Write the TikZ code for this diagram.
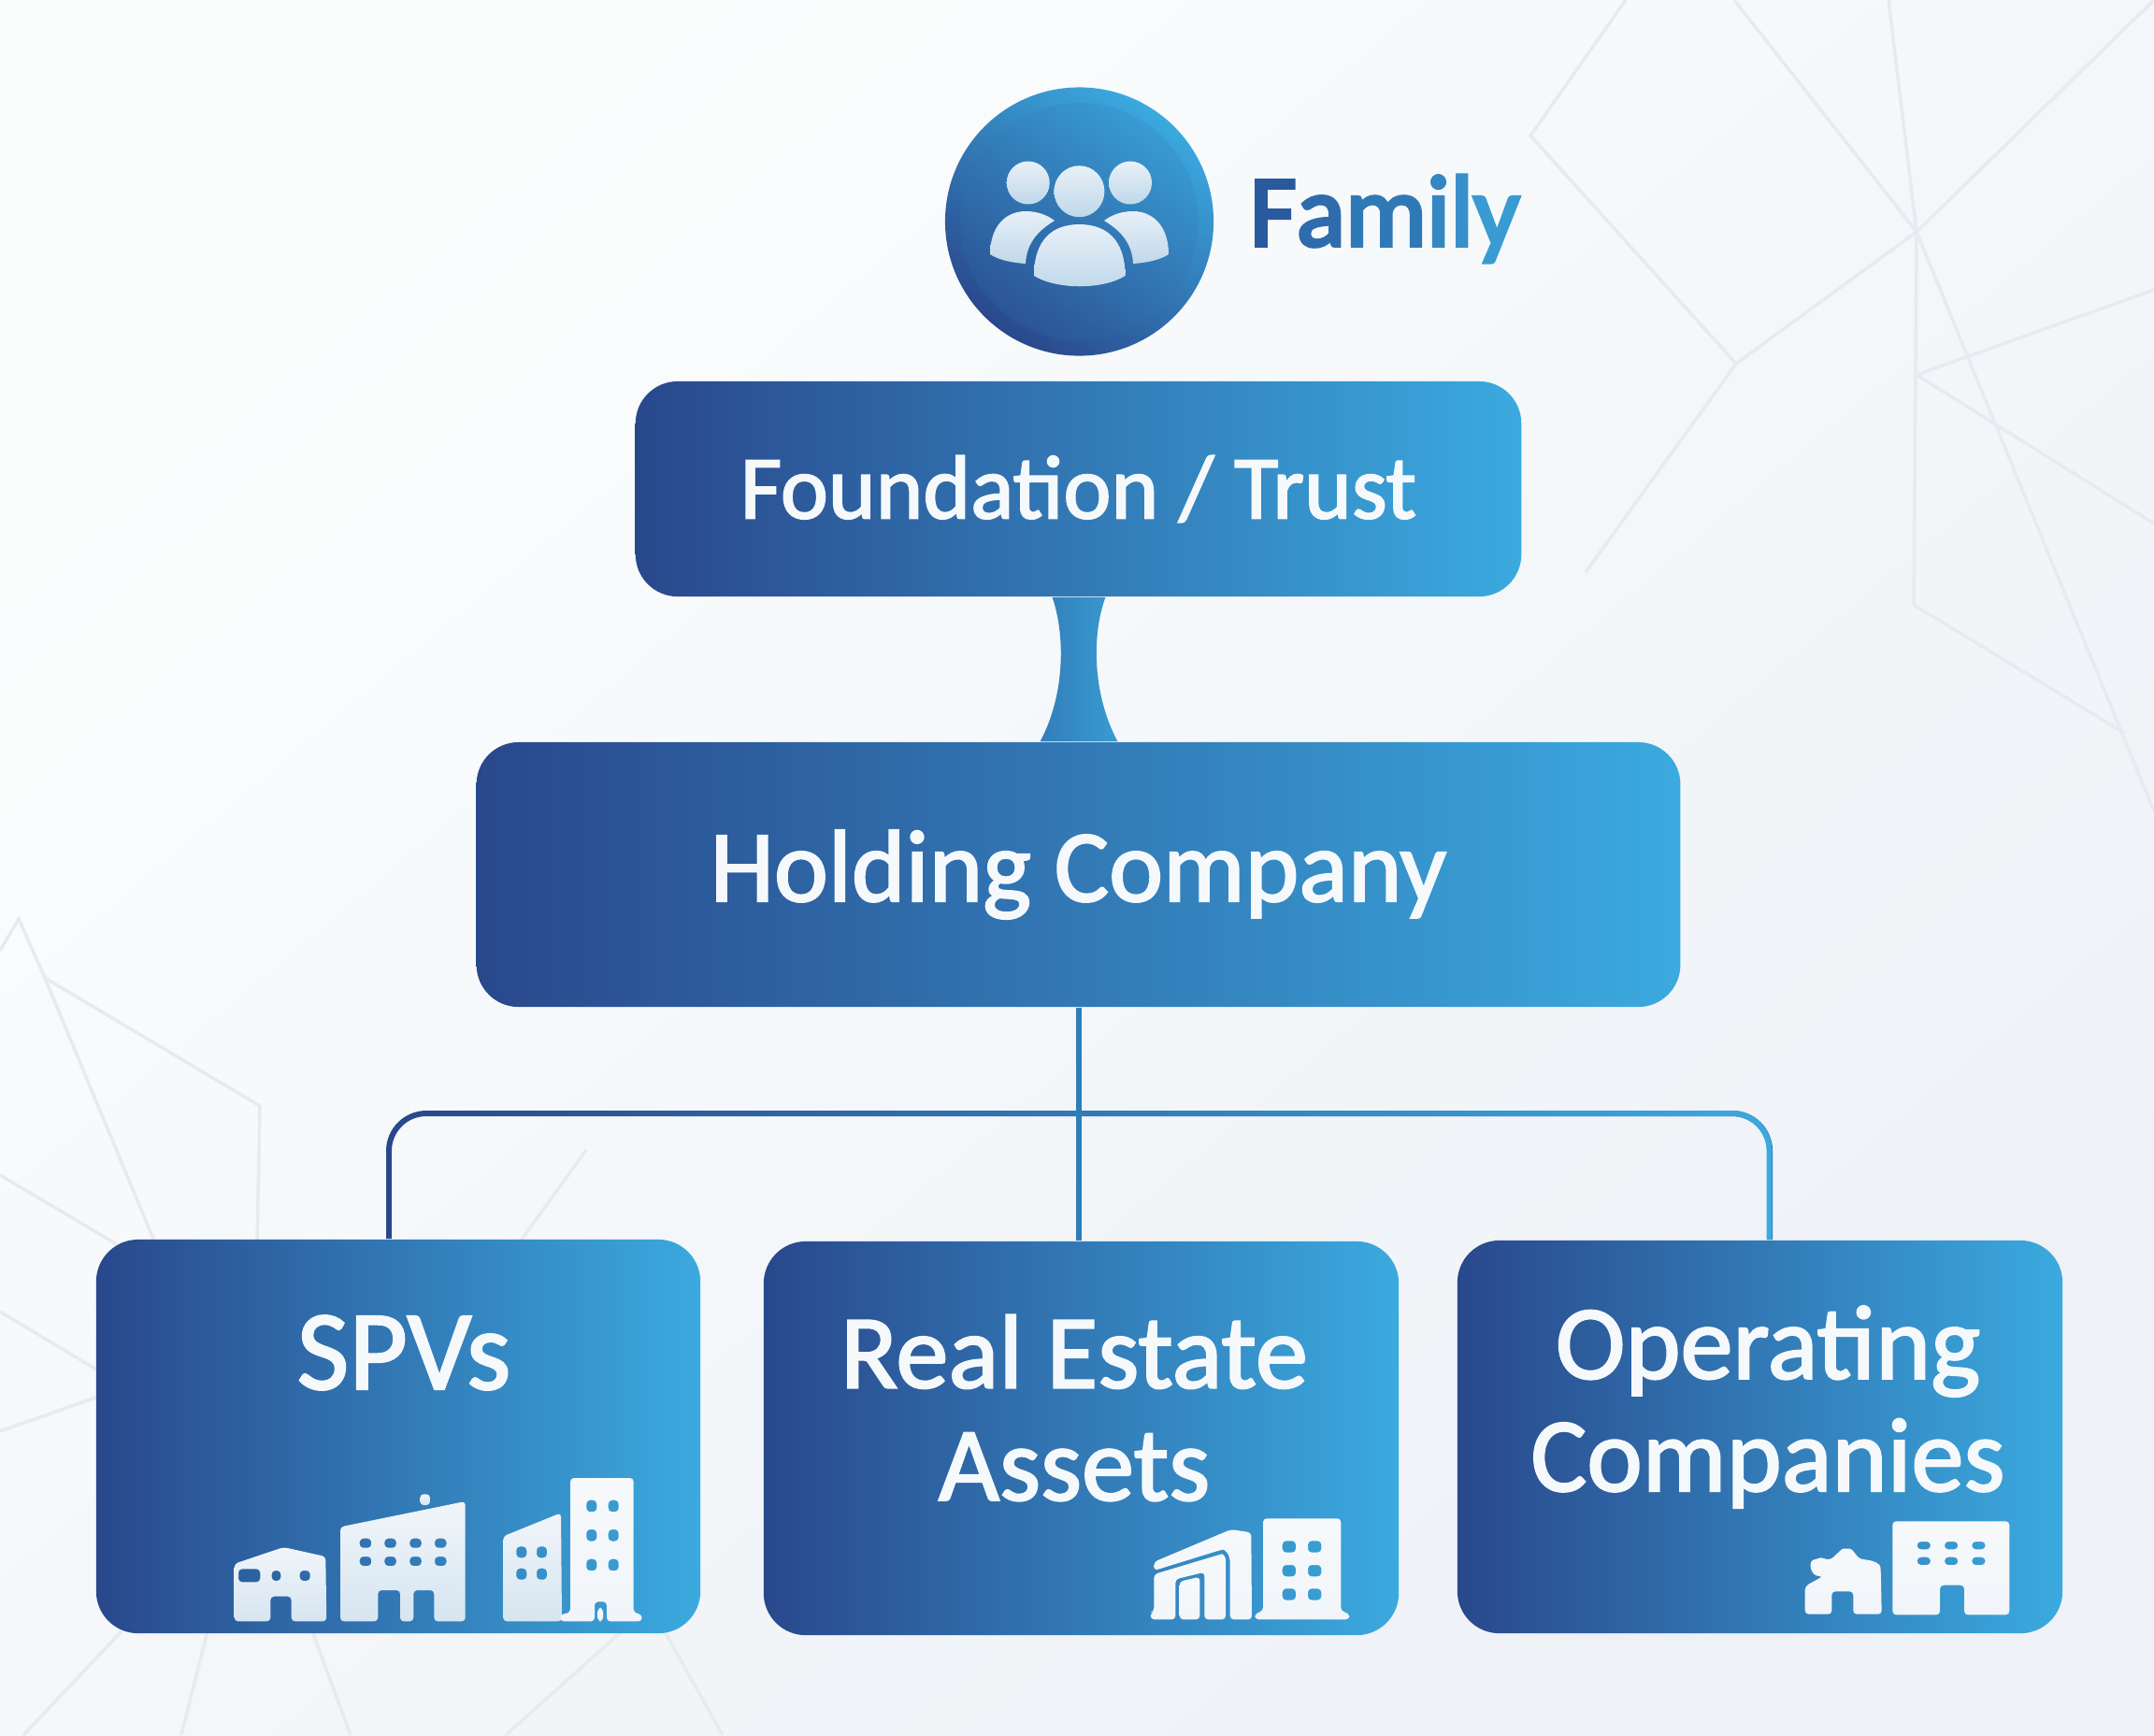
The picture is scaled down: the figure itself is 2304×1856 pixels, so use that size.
\documentclass[tikz,border=0pt]{standalone}
\usepackage{fontspec}
\setmainfont{Carlito}
\newcommand{\labelsize}[1]{\fontsize{#1}{34.2}\selectfont\font\labelfontnow="Carlito:embolden=1.9" at #1pt \labelfontnow}
\newcommand{\familysize}[1]{\font\familyfontnow="Carlito:embolden=3.6" at #1pt \familyfontnow}
\usetikzlibrary{calc,fadings,shapes.geometric}
\definecolor{boxleft}{HTML}{29488C}
\definecolor{boxright}{HTML}{3BAADF}
\definecolor{boxtext}{HTML}{F6F9FB}
\definecolor{bgline}{HTML}{E7EAF0}
\definecolor{pagetop}{HTML}{FBFDFD}
\definecolor{pagebot}{HTML}{EEF1F6}
\definecolor{trunkblue}{HTML}{2F7DB8}
\definecolor{bldgtop}{HTML}{F1F5F9}
\definecolor{bldgbot}{HTML}{D6E5F1}
\definecolor{persontop}{HTML}{E8F0F7}
\definecolor{personbot}{HTML}{BFD8EA}
\definecolor{famA}{HTML}{2A5A9E}
\definecolor{famB}{HTML}{2F6CAD}
\definecolor{famC}{HTML}{3079B7}
\definecolor{famD}{HTML}{3387C2}
\definecolor{famE}{HTML}{3790C9}
\definecolor{famF}{HTML}{3A9BD2}
\tikzset{
    tierbox/.style={rectangle, rounded corners=0.45cm, left color=boxleft, right color=boxright,
        text=boxtext, inner sep=0pt, align=center},
    boxlabel/.style={text=boxtext, align=center, inner sep=0pt, font=\labelsize{32}},
    faint/.style={draw=bgline, line width=1pt},
    rail/.style={line width=1.7pt, rounded corners=0.4cm},
    bldg/.style={top color=bldgtop, bottom color=bldgbot, even odd rule, rounded corners=1.1pt},
    paleb/.style={top color=bldgtop!60!white, bottom color=bldgtop, even odd rule, rounded corners=1.1pt},
    person/.style={top color=persontop, bottom color=personbot},
}
\begin{document}
\begin{tikzpicture}[x=0.01cm, y=-0.01cm]
    \useasboundingbox (0,0) rectangle (2304,1856);
    \clip (0,0) rectangle (2304,1856);
    \shade[top color=pagetop, bottom color=pagebot, shading angle=40] (0,0) rectangle (2304,1856);

    \draw[faint] (1739,0) -- (1637,145) -- (1857,389) -- (1696,612);
    \draw[faint] (1855,0) -- (2050,248) -- (1857,389);
    \draw[faint] (2020,0) -- (2050,248) -- (2304,0);
    \draw[faint] (2050,248) -- (2047,647) -- (2272,784);
    \draw[faint] (2050,248) -- (2304,868);
    \draw[faint] (2304,310) -- (2050,401) -- (2304,560);
    \draw[faint] (0,1017) -- (20,983) -- (48,1046) -- (278,1183) -- (275,1330);
    \draw[faint] (48,1046) -- (166,1330);
    \draw[faint] (0,1257) -- (125,1331);
    \draw[faint] (0,1403) -- (105,1466);
    \draw[faint] (0,1531) -- (105,1494);
    \draw[faint] (627,1230) -- (555,1330);
    \draw[faint] (130,1745) -- (25,1856);
    \draw[faint] (222,1745) -- (194,1856);
    \draw[faint] (334,1745) -- (375,1856);
    \draw[faint] (665,1745) -- (541,1856);
    \draw[faint] (711,1745) -- (773,1856);

    \node[circle, minimum size=2.87cm, inner sep=0pt, top color=boxright, bottom color=boxleft, shading angle=-35] (family) at (1154.5,237) {};
    \node[circle, minimum size=2.54cm, inner sep=0pt, top color=boxright!85!boxleft, bottom color=boxleft!88!boxright, shading angle=-35] (familyring) at (family) {};
    \shade[person] (1099.7,195.5) ellipse [x radius=23, y radius=23];
    \shade[person] (1154.4,204.7) ellipse [x radius=27, y radius=27.5];
    \shade[person] (1209,195.5) ellipse [x radius=23, y radius=23];
    \shade[person] (1106,295) .. controls (1106,256) and (1126,240) .. (1154.5,240) .. controls (1183,240) and (1203.5,256) .. (1203.5,295) .. controls (1180,310) and (1130,310) .. cycle;
    \shade[person] (1059,272) .. controls (1059,243) and (1075,226) .. (1097,226) .. controls (1110,226) and (1120,230) .. (1128,236) .. controls (1108,248) and (1098,262) .. (1097,282) .. controls (1082,281) and (1068,278) .. cycle;
    \shade[person] (1250,272) .. controls (1250,243) and (1234,226) .. (1212,226) .. controls (1199,226) and (1189,230) .. (1181,236) .. controls (1201,248) and (1211,262) .. (1212,282) .. controls (1227,281) and (1241,278) .. cycle;
    \node[anchor=base west, inner sep=0pt, font=\familysize{31}] (familylabel) at (1336,263)
        {\textcolor{famA}{F}\textcolor{famB}{a}\textcolor{famC}{m}\textcolor{famD}{i}\textcolor{famE}{l}\textcolor{famF}{y}};

    \node[tierbox, minimum width=9.47cm, minimum height=2.30cm, font=\labelsize{27.5}] (trust) at (1153.5,523) {Foundation / Trust};
    \node[tierbox, minimum width=12.87cm, minimum height=2.83cm, font=\labelsize{31.2}] (holding) at (1153.5,935.5) {Holding Company};
    \node[tierbox, minimum width=6.46cm, minimum height=4.21cm] (spv) at (426,1536.5) {};
    \node[tierbox, minimum width=6.79cm, minimum height=4.21cm] (estate) at (1156.5,1538.5) {};
    \node[tierbox, minimum width=6.47cm, minimum height=4.20cm] (operating) at (1882.5,1537) {};
    \node[boxlabel, font=\labelsize{34.5}] (spvlabel) at (432,1447) {SPVs};
    \node[boxlabel] (estatelabel) at (1149,1506) {Real Estate\\Assets};
    \node[boxlabel] (operatinglabel) at (1891,1505) {Operating\\Companies};

    \shade[left color=boxleft!45!boxright, right color=boxleft!15!boxright] ($(trust.south)+(-28,0)$) .. controls +(14,40) and +(27,-50) .. ($(holding.north)+(-41,0)$) -- ($(holding.north)+(42,0)$) .. controls +(-27,-50) and +(-15,40) .. ($(trust.south)+(29,0)$) -- cycle;

    \coordinate (spvdrop) at ($(spv.north)+(-10,0)$);
    \coordinate (operatingdrop) at ($(operating.north)+(10.5,0)$);
    \coordinate (railmid) at (1153.5,1191);
    \draw[rail, draw=boxleft] (spvdrop) |- (railmid) -| (operatingdrop);
    \draw[rail, draw=boxright, path fading=west] (spvdrop) |- (railmid) -| (operatingdrop);
    \draw[line width=1.7pt, draw=trunkblue] (holding.south) -- (holding.south |- estate.north);

    \shade[bldg] (250.7,1734.3) -- (250.7,1672.7) -- (303.3,1655) -- (348.3,1665) -- (349.3,1734.3) -- (311.7,1734.3) -- (311.7,1707.7) -- (289.3,1707.7) -- (289.3,1734.3) -- cycle
        (255,1678.3) rectangle (278.3,1692.3) (290.7,1680) rectangle (300.3,1691) (320.7,1680) rectangle (331.7,1691);
    \shade[bldg] (364,1734.3) -- (364,1633.3) -- (497.7,1606) -- (497.7,1734.3) -- (464.3,1734.3) -- (464.3,1701) -- (442.3,1701) -- (442.3,1734.3) -- (428,1734.3) -- (428,1701) -- (404.3,1701) -- (404.3,1734.3) -- cycle
        \foreach \x in {384.7,411.3,438.3,465} { \foreach \y in {1645.7,1665} { (\x,\y) rectangle (\x+12.5,\y+10) } };
    \shade[bldg] (449.3,1598.3) rectangle (460,1610);
    \shade[bldg] (538.3,1734.3) -- (538.3,1643.3) -- (600,1618.3) -- (601,1734.3) -- cycle
        \foreach \x in {552.3,574} { \foreach \y in {1654.3,1677.7} { (\x,\y) rectangle (\x+11,\y+12) } };
    \shade[paleb] (599.3,1734.3) -- (599.3,1727) -- (610,1725) -- (610,1581) -- (677.7,1581) -- (677.7,1725) -- (686.7,1727) -- (686.7,1734.3) -- (649,1734.3) -- (649,1713.3) -- (636,1713.3) -- (636,1734.3) -- cycle
        \foreach \x in {627.3,650.7} { \foreach \y in {1604.7,1636,1667.7} { (\x,\y) rectangle (\x+11,\y+12.5) } };
    \shade[paleb] (639.3,1734.3) -- (639.3,1720) -- (645,1720) -- (645,1734.3) -- cycle;

    \shade[paleb] (1234.3,1670.7) -- (1316.7,1636) -- (1338.3,1639.3) -- (1339,1732.3) -- (1315.7,1732.3) -- (1315.7,1676) .. controls (1315.7,1662) and (1310,1657) .. (1304,1658.5) -- (1234.3,1680) -- cycle;
    \shade[paleb] (1234.3,1684) -- (1303.3,1663.3) .. controls (1308,1662) and (1311,1666) .. (1311,1671.7) -- (1311,1732.3) -- (1288.3,1732.3) -- (1288.3,1681.7) -- (1257.3,1689.3) -- (1257.3,1732.3) -- (1230.7,1732.3) -- (1230.7,1725) -- (1234.3,1724) -- cycle;
    \shade[paleb] (1261.7,1691.7) -- (1283.3,1686.7) -- (1283.3,1732.3) -- (1261.7,1732.3) -- cycle;
    \shade[paleb] (1342.3,1732.3) -- (1342.3,1726) -- (1351,1723.3) -- (1351,1624.3) -- (1434.3,1624.3) -- (1434.3,1723.3) -- (1443.3,1726) -- (1443.3,1732.3) -- cycle
        \foreach \x in {1371.7,1399} { \foreach \y in {1648.3,1674,1699.3} { (\x,\y) rectangle (\x+14.3,\y+12.3) } };

    \shade[paleb] (1930.7,1726.7) -- (1930.7,1696.7) -- (1950,1686) .. controls (1936,1686) and (1934,1670) .. (1943.3,1667.7) .. controls (1948,1666) and (1954,1668) .. (1958.3,1668.3) .. controls (1964,1663) and (1970,1656.7) .. (1975,1656.7) .. controls (1982,1656.7) and (1986,1666) .. (1993.3,1668.3) .. controls (2002,1669) and (2011,1672) .. (2011.7,1680) -- (2012.7,1726.7) -- (1982.3,1726.7) -- (1982.3,1702.3) -- (1959.3,1702.3) -- (1959.3,1726.7) -- cycle;
    \shade[paleb] (2024.3,1727.3) -- (2024.3,1627.3) -- (2149.3,1627.3) -- (2149.3,1727.3) -- (2101,1727.3) -- (2101,1695.7) -- (2075,1695.7) -- (2075,1727.3) -- cycle
        \foreach \x in {2050.7,2080,2109.3} { \foreach \y in {1649,1665.7} { (\x,\y) rectangle (\x+14.2,\y+8.3) } };
\end{tikzpicture}
\end{document}
